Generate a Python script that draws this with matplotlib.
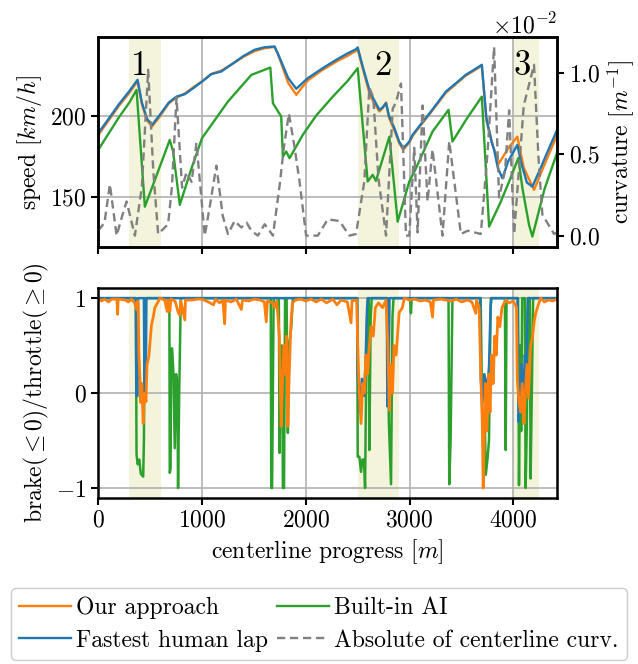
import numpy as np
import matplotlib
matplotlib.use('Agg')
import matplotlib.pyplot as plt
from matplotlib.ticker import MultipleLocator

plt.rcParams['font.family'] = 'serif'
plt.rcParams['font.serif'] = ['cmr10']
plt.rcParams['mathtext.fontset'] = 'cm'
plt.rcParams['axes.formatter.use_mathtext'] = True
plt.rcParams['font.size'] = 17

# speed traces [km/h] over centerline progress [m]
human_dist = [0, 100, 200, 300, 379, 420, 470, 519, 600, 680, 754, 834, 920, 1000, 1090, 1186, 1300, 1400,
              1507, 1600, 1699, 1730, 1763, 1830, 1908, 1960, 2019, 2150, 2292, 2400, 2480, 2500, 2548, 2620,
              2709, 2740, 2773, 2800, 2853, 2900, 2939, 2997, 3029, 3100, 3200, 3350, 3450, 3542, 3620, 3696,
              3740, 3790, 3814, 3850, 3894, 3950, 4038, 4080, 4130, 4183, 4250, 4330, 4420]
human_speed = [189.2, 198, 207, 215, 221.9, 208, 198, 194.3, 201, 208, 211.6, 213.1, 217, 220.8, 225.4, 227,
               232, 236.5, 240.3, 241.8, 242.3, 238, 233.1, 223, 216.4, 219.5, 222.9, 228.5, 234.1, 238, 240.5,
               241.7, 230, 214, 203.5, 205, 207.6, 200, 192.3, 184, 180, 184, 188.2, 194, 202, 214.7, 220, 225,
               228, 231.1, 198.4, 184, 179, 168, 161.6, 172, 182, 170, 159, 156.5, 166, 178, 191]

ours_dist = [0, 100, 200, 300, 379, 420, 470, 519, 600, 680, 754, 834, 920, 1000, 1090, 1186, 1300, 1400,
             1507, 1600, 1699, 1730, 1763, 1830, 1908, 1960, 2019, 2150, 2292, 2400, 2480, 2500, 2548, 2620,
             2709, 2740, 2773, 2800, 2853, 2900, 2939, 2997, 3029, 3100, 3200, 3350, 3450, 3542, 3620, 3696,
             3740, 3800, 3862, 3950, 4038, 4100, 4199, 4300, 4420]
ours_speed = [188, 197, 206, 214, 221, 207, 197, 193.3, 200, 207.5, 211, 213.5, 217.5, 221, 225.5, 227.5,
              232, 236, 239.5, 241.2, 242, 238, 232, 220, 212.7, 217, 221.5, 227.5, 233, 236.5, 239.5, 240.5,
              229, 212, 202.5, 204.5, 208, 199, 191, 183, 179, 183.5, 187.5, 193.5, 201.5, 214, 219.5, 224.5,
              227.5, 230.5, 197, 182, 170.8, 180, 187.1, 168, 154.5, 170, 188]

ai_dist = [0, 100, 200, 300, 369, 449, 560, 689, 721, 786, 900, 1000, 1250, 1475, 1658, 1683, 1763, 1779,
           1811, 1843, 1971, 2100, 2260, 2400, 2500, 2596, 2644, 2676, 2805, 2885, 2997, 3062, 3221, 3375,
           3413, 3550, 3696, 3766, 3870, 3959, 4048, 4087, 4151, 4183, 4300, 4420]
ai_speed = [179, 189, 199, 208, 215.7, 144.2, 163, 185.1, 178, 145.3, 168, 186.2, 208.6, 224.9, 229.4, 207.6,
            199.4, 174.9, 178, 173.9, 188.2, 200, 211.6, 221, 229, 159.6, 163.7, 160, 187.1, 135, 159.6, 167.8,
            190.2, 203.5, 184.1, 198, 211.6, 132, 146, 159.6, 174, 155.5, 133, 125.9, 155, 177]

# absolute centerline curvature [1/m]
curv_dist = [0, 60, 112, 177, 230, 273, 353, 420, 481, 530, 577, 673, 710, 754, 808, 850, 900, 946, 1026,
             1080, 1138, 1200, 1250, 1314, 1379, 1430, 1475, 1538, 1603, 1650, 1683, 1747, 1790, 1837, 1890,
             1939, 2003, 2115, 2212, 2324, 2420, 2484, 2564, 2612, 2650, 2700, 2773, 2837, 2869, 2917, 2965,
             2997, 3045, 3077, 3125, 3173, 3221, 3317, 3382, 3494, 3560, 3686, 3750, 3814, 3862, 3920, 3959,
             4007, 4100, 4199, 4240, 4279, 4392, 4420]
curv_val = [0.0003, 0.0008, 0.00315, 0.0, 0.0012, 0.0021, 0.0, 0.003, 0.0102, 0.004, 0.0001, 0.0007, 0.003,
            0.0085, 0.00295, 0.0039, 0.0033, 0.0057, 0.0, 0.002, 0.0043, 0.0012, 0.0001, 0.0009, 0.0005, 0.0008,
            0.0003, 0.0, 0.0007, 0.0003, 0.0, 0.00305, 0.0055, 0.0075, 0.0055, 0.00335, 0.0, 0.0, 0.001, 0.0009,
            0.0, 0.0001, 0.00335, 0.0091, 0.0085, 0.0035, 0.0, 0.0078, 0.0082, 0.00935, 0.0, 0.0, 0.0054,
            0.0002, 0.008, 0.0021, 0.0053, 0.0, 0.0058, 0.0001, 0.0003, 0.0001, 0.005, 0.0116, 0.00235, 0.004,
            0.0077, 0.0001, 0.008, 0.0105, 0.005, 0.0013, 0.0001, 0.0002]

# brake (<=0) / throttle (>=0)
human_ctrl_dist = [0, 362, 368, 378, 384, 440, 446, 458, 464, 2495, 2500, 2520, 2540, 2560, 2575, 2590, 2600,
                   2780, 2786, 2800, 2806, 3680, 3686, 3700, 3720, 3750, 3766, 3780, 3790, 4040, 4050, 4065,
                   4080, 4095, 4110, 4125, 4140, 4420]
human_ctrl = [1, 1, -0.03, -0.03, 1, 1, -0.05, 0.1, 1, 1, 0.2, -0.2, 0.15, -0.03, 0.3, 0.9, 1, 1, -0.14, 0.3,
              1, 1, 0.15, -0.1, 0.2, 0.05, 0.3, 0.9, 1, 1, -0.3, -0.1, 0.3, -0.2, 0.4, 0.3, 1, 1]

ours_ctrl_dist = [0, 30, 60, 100, 130, 180, 186, 192, 260, 290, 320, 350, 370, 380, 385, 392, 400, 410, 420,
                  433, 440, 450, 460, 470, 488, 500, 513, 530, 545, 561, 580, 593, 640, 665, 672, 690, 700, 740,
                  770, 786, 795, 810, 834, 840, 900, 960, 1000, 1060, 1110, 1130, 1170, 1200, 1218, 1226, 1280,
                  1330, 1379, 1390, 1450, 1500, 1560, 1600, 1619, 1630, 1680, 1700, 1720, 1745, 1763, 1775,
                  1790, 1800, 1815, 1827, 1840, 1855, 1870, 1900, 1950, 2000, 2050, 2100, 2150, 2200, 2260,
                  2300, 2340, 2400, 2436, 2445, 2490, 2500, 2515, 2532, 2548, 2564, 2580, 2596, 2612, 2630,
                  2650, 2670, 2700, 2740, 2773, 2790, 2805, 2820, 2835, 2850, 2870, 2900, 2930, 2949, 3000,
                  3050, 3100, 3150, 3200, 3221, 3230, 3300, 3350, 3400, 3450, 3500, 3560, 3600, 3638, 3645,
                  3670, 3686, 3700, 3709, 3718, 3730, 3745, 3760, 3775, 3790, 3805, 3820, 3835, 3850, 3870,
                  3890, 3926, 3960, 4000, 4030, 4038, 4055, 4070, 4085, 4102, 4115, 4130, 4145, 4166, 4185,
                  4200, 4215, 4240, 4263, 4300, 4340, 4380, 4420]
ours_ctrl = [1, 0.97, 0.99, 0.96, 0.99, 0.99, 0.83, 0.99, 0.98, 0.96, 0.99, 0.95, 0.88, 0.97, 0.9, 0.4, 0.2,
             -0.1, 0.1, -0.32, -0.1, 0.0, -0.09, 0.3, 0.39, 0.55, 0.72, 0.8, 0.9, 0.93, 0.97, 1, 0.98, 0.86,
             0.98, 0.86, 0.99, 0.97, 0.85, 0.82, 0.97, 0.9, 0.77, 0.98, 0.98, 0.99, 0.99, 0.96, 0.93, 0.99,
             0.95, 0.98, 0.73, 0.98, 0.96, 0.99, 0.88, 0.98, 0.97, 0.99, 0.98, 0.96, 0.75, 0.97, 0.95, 0.9,
             0.97, 0.6, -0.35, 0.1, 0.5, 0.2, 0.6, -0.35, 0.2, 0.7, 0.95, 0.98, 0.99, 0.97, 0.99, 0.96, 0.99,
             0.95, 0.99, 0.93, 0.98, 0.96, 0.74, 0.97, 0.98, 0.5, 0.0, -0.32, 0.1, 0.0, 0.4, 0.2, 0.5, 0.7,
             0.6, 0.9, 0.95, 0.9, 0.98, 0.5, -0.18, 0.3, 0.0, 0.5, 0.4, 0.85, 0.9, 1, 0.98, 0.99, 0.97, 0.98,
             0.96, 0.8, 0.98, 0.99, 0.98, 0.97, 0.99, 0.96, 0.98, 0.96, 0.84, 0.98, 0.9, 0.2, -0.3, -1.0, -0.5,
             0.1, -0.4, 0.2, -0.2, 0.4, 0.1, 0.6, 0.4, 0.8, 0.7, 0.9, 0.98, 0.95, 0.97, 0.9, 0.13, -0.1, -0.2,
             0.1, -0.32, 0.0, 0.3, -0.05, 0.5, 0.6, 0.75, 0.84, 0.93, 1, 0.96, 0.98, 0.97, 0.99]

ai_ctrl_dist = [0, 362, 369, 380, 395, 410, 433, 440, 449, 685, 689, 697, 703, 712, 725, 737, 750, 762, 769,
                780, 795, 1662, 1667, 1675, 1690, 1740, 1747, 1760, 1772, 1779, 1790, 1800, 1815, 1827, 1840,
                1860, 1875, 2495, 2500, 2516, 2532, 2545, 2560, 2571, 2585, 2596, 2606, 2612, 2625, 2635,
                2790, 2800, 2821, 2835, 2845, 3005, 3013, 3020, 3375, 3382, 3395, 3413, 3685, 3702, 3725,
                3734, 3750, 3765, 3782, 3918, 3926, 3934, 4045, 4054, 4065, 4075, 4085, 4110, 4118, 4130,
                4140, 4158, 4166, 4180, 4190, 4420]
ai_ctrl = [1, 1, -0.65, -0.75, -0.7, -0.85, -0.88, -0.5, 1, 1, -0.84, -0.8, 0.47, 0.47, 0.2, -0.58, 0.2,
           0.1, -1.0, 0.0, 1, 1, -1.0, -1.0, 1, 1, -0.63, 0.5, 0.5, -1.0, -1.0, 1, 1, -0.42, 0.5, 0.7, 1, 1,
           -0.67, -0.67, -0.83, -0.7, -0.7, -1.0, 0.6, 1, 1, -0.6, 0.8, 1, 1, -0.3, -0.96, 0.8, 1, 1, 0.84, 1,
           1, -0.96, -0.5, 1, 1, -0.4, -0.3, -0.86, -0.7, -0.5, 1, 1, -0.6, 1, 1, -0.97, 0.5, -0.4, 1, 1,
           -1.0, -0.3, 1, 1, -0.9, 0.2, 1, 1]

# highlighted sections
sections = [(300, 600, '1', 395), (2500, 2900, '2', 2740), (4000, 4250, '3', 4085)]

fig = plt.figure(figsize=(6.38, 6.64), dpi=100)
ax = fig.add_axes([0.154, 0.628, 0.719, 0.316])
ax_b = fig.add_axes([0.154, 0.25, 0.719, 0.316], sharex=ax)

for a in (ax, ax_b):
    for s, e, lab, xt in sections:
        a.axvspan(s, e, color='#f4f4dc', zorder=0, lw=0)
    a.grid(True, color='#b0b0b0', linewidth=1.2)
    a.set_axisbelow(True)
    for sp in a.spines.values():
        sp.set_linewidth(1.8)
    a.tick_params(width=1.5, length=5)

l_ours, = ax.plot(ours_dist, ours_speed, color='tab:orange', lw=1.7, label='Our approach')
l_ai, = ax.plot(ai_dist, ai_speed, color='tab:green', lw=1.7, label='Built-in AI')
l_hum, = ax.plot(human_dist, human_speed, color='tab:blue', lw=1.7, label='Fastest human lap')
ax.set_ylim(119.5, 248)
ax.set_yticks([150, 200])
ax.set_ylabel('speed [$km/h$]')
plt.setp(ax.get_xticklabels(), visible=False)
for s, e, lab, xt in sections:
    ax.text(xt, 230, lab, fontsize=25, ha='center', va='center')

ax2 = ax.twinx()
l_curv, = ax2.plot(curv_dist, curv_val, color='gray', ls=(0, (3.5, 2)), lw=1.7,
                   label='Absolute of centerline curv.')
ax2.set_ylim(-0.0007, 0.0122)
ax2.yaxis.set_major_locator(MultipleLocator(0.005))
ax2.ticklabel_format(axis='y', style='sci', scilimits=(0, 0))
ax2.set_ylabel('curvature [$m^{-1}$]')
ax2.tick_params(width=1.5, length=5)
for sp in ax2.spines.values():
    sp.set_linewidth(1.8)

ax_b.plot(ai_ctrl_dist, ai_ctrl, color='tab:green', lw=1.8)
ax_b.plot(human_ctrl_dist, human_ctrl, color='tab:blue', lw=1.8)
ax_b.plot(ours_ctrl_dist, ours_ctrl, color='tab:orange', lw=2.0)
ax_b.set_ylim(-1.105, 1.105)
ax_b.set_yticks([-1, 0, 1])
ax_b.set_xlim(0, 4420)
ax_b.set_xticks([0, 1000, 2000, 3000, 4000])
ax_b.set_xlabel('centerline progress [$m$]')
ax_b.set_ylabel(r'brake($\leq 0$)/throttle($\geq 0$)')

fig.legend(handles=[l_ours, l_hum, l_ai, l_curv], loc='lower center', bbox_to_anchor=(0.5, 0.006),
           ncol=2, handlelength=2.2, handletextpad=0.2, columnspacing=0.4, labelspacing=0.45,
           borderpad=0.35, borderaxespad=0.0, fancybox=True, framealpha=1.0, edgecolor='#cccccc')

fig.savefig('out.png', dpi=100)
